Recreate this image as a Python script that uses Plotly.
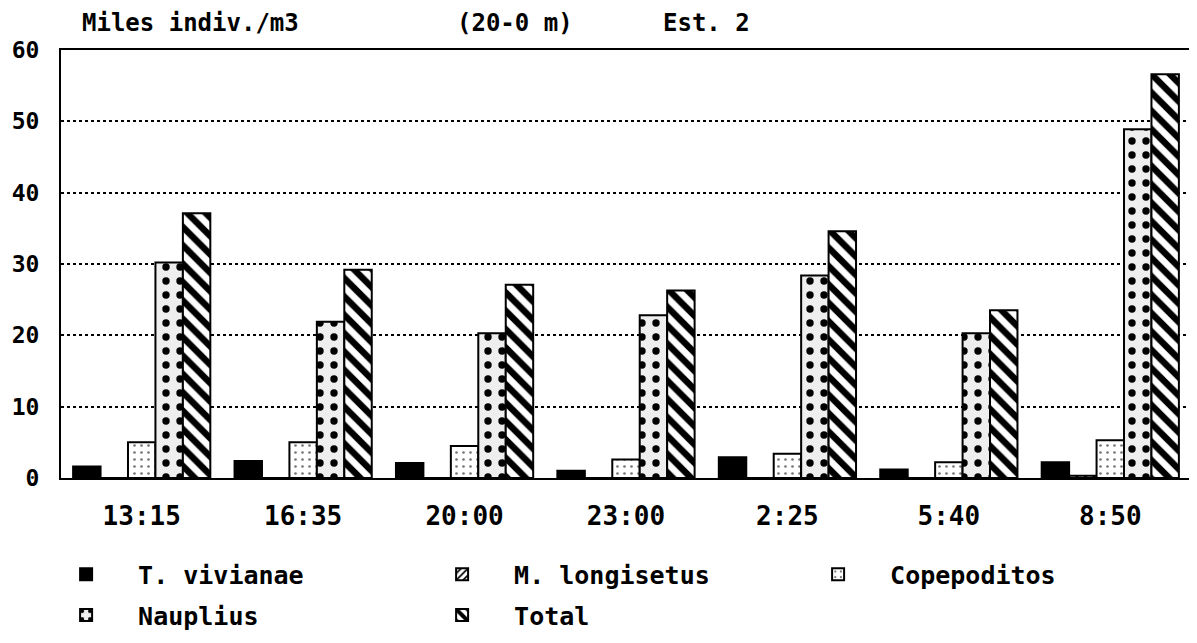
import plotly.graph_objects as go

categories = ["13:15", "16:35", "20:00", "23:00", "2:25", "5:40", "8:50"]
t_vivianae = [1.6, 2.4, 2.1, 1.0, 2.9, 1.2, 2.2]
m_longisetus = [0.0, 0.0, 0.0, 0.0, 0.0, 0.0, 0.3]
copepoditos = [5.0, 5.0, 4.5, 2.6, 3.4, 2.2, 5.3]
nauplius = [30.2, 21.9, 20.3, 22.8, 28.4, 20.3, 48.9]
total = [37.1, 29.2, 27.1, 26.3, 34.6, 23.5, 56.6]
y_ticks = [0, 10, 20, 30, 40, 50, 60]

FONT = "DejaVu Sans Mono"
line = dict(color="black", width=2)

OFF = 8  # page body margin in the browser
W, H = 1197 - OFF, 643 - OFF
# plot area in page pixels: x 59..1193, y 50..480
ML, MR, MT, MB = 59 - OFF, 1197 - 1193, 50 - OFF, 643 - 480
PW, PH = W - ML - MR, H - MT - MB


def px(xp):
    """page x pixel -> paper fraction"""
    return (xp - OFF - ML) / PW


def py(yp):
    """page y pixel -> paper fraction"""
    return (H - MB - (yp - OFF)) / PH


fig = go.Figure()
fig.add_trace(go.Bar(name="T. vivianae", x=categories, y=t_vivianae, legend="legend",
                     marker=dict(color="black", line=line)))
fig.add_trace(go.Bar(name="M. longisetus", x=categories, y=m_longisetus, legend="legend",
                     marker=dict(color="white", line=line,
                                 pattern=dict(shape="/", fgcolor="black", bgcolor="white",
                                              fgopacity=1, size=6, solidity=0.35))))
fig.add_trace(go.Bar(name="Copepoditos", x=categories, y=copepoditos, legend="legend",
                     marker=dict(color="white", line=line,
                                 pattern=dict(shape=".", fgcolor="#777", bgcolor="white",
                                              fgopacity=1, size=7, solidity=0.12))))
fig.add_trace(go.Bar(name="Nauplius", x=categories, y=nauplius, legend="legend2",
                     marker=dict(color="white", line=line,
                                 pattern=dict(shape=".", fgcolor="black", bgcolor="#eeeeee",
                                              fgopacity=1, size=14, solidity=0.22))))
fig.add_trace(go.Bar(name="Total", x=categories, y=total, legend="legend2",
                     marker=dict(color="white", line=line,
                                 pattern=dict(shape="\\", fgcolor="black", bgcolor="white",
                                              fgopacity=1, size=13, solidity=0.5))))

legend_common = dict(orientation="h", xanchor="left", yanchor="middle",
                     entrywidth=267, entrywidthmode="pixels",
                     font=dict(family=FONT, size=25, color="black", weight="bold"),
                     itemwidth=94, traceorder="normal", bgcolor="rgba(0,0,0,0)")

fig.update_layout(
    barmode="group",
    bargap=0.15,
    bargroupgap=0.0,
    width=W, height=H,
    margin=dict(l=ML, r=MR, t=MT, b=MB),
    paper_bgcolor="white",
    plot_bgcolor="white",
    font=dict(family=FONT, size=24, color="black", weight="bold"),
    showlegend=True,
    legend=dict(x=px(32), y=py(577), **legend_common),
    legend2=dict(x=px(32), y=py(618), **legend_common),
)
fig.update_xaxes(showgrid=False, showline=True, linecolor="black", linewidth=2,
                 mirror=True, ticks="", ticklabelstandoff=14,
                 tickfont=dict(family=FONT, size=26, weight="bold"))
fig.update_yaxes(range=[0, 60], tickvals=y_ticks, showgrid=True, gridcolor="black",
                 griddash="dot", gridwidth=1.5, showline=True, linecolor="black",
                 linewidth=2, mirror=True, ticks="", ticklabelstandoff=15,
                 zeroline=False, tickfont=dict(family=FONT, size=23, weight="bold"))

# title pieces, centred where the reference has them
for txt, xc in [("Miles indiv./m3", 189), ("(20-0 m)", 515), ("Est. 2", 707)]:
    fig.add_annotation(text=txt, x=px(xc), y=py(OFF), borderpad=0,
                       xref="paper", yref="paper", xanchor="center", yanchor="top",
                       showarrow=False,
                       font=dict(family=FONT, size=24, color="black", weight="bold"))

fig.write_html("out.html")
